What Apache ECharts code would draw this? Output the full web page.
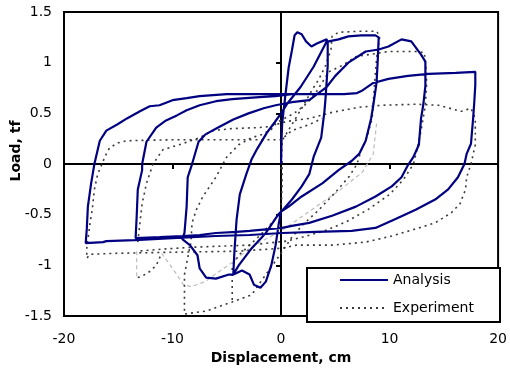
<!DOCTYPE html>
<html><head><meta charset="utf-8">
<script src="https://cdn.jsdelivr.net/npm/echarts@6/dist/echarts.min.js"></script>
<style>html,body{margin:0;padding:0;background:#fff}#c{width:510px;height:370px}</style>
</head><body><div id="c"></div>
<script>
// axis ticks
var xTicks = [-20, -10, 0, 10, 20];
var yTicks = [-1.5, -1, -0.5, 0, 0.5, 1, 1.5];

// Analysis branches [displacement cm, load tf]
var anVirgin = [[0,0],[0.05,0.25],[0.1,0.4],[0.4,0.68],[0.7,0.95],[1.0,1.12],[1.25,1.27],[1.5,1.3],[1.9,1.28],[2.3,1.21],[2.8,1.16],[3.3,1.19],[4.2,1.23]];
var anUnload4 = [[4.3,1.2],[4.3,0.97],[4.1,0.65],[4.0,0.52],[3.7,0.26],[3.0,0.07],[2.6,-0.1],[1.9,-0.22],[1.0,-0.35],[0.1,-0.46],[-0.2,-0.49],[-1.4,-0.68],[-2.7,-0.83],[-3.9,-1.0],[-4.4,-1.09]];
var anLoad9 = [[-4.3,-0.87],[-4.1,-0.55],[-3.8,-0.3],[-3.2,-0.1],[-2.7,0.05],[-2.2,0.15],[-1.3,0.31],[-0.6,0.41],[0,0.5],[0.6,0.6],[1.8,0.76],[3.0,0.96],[4.2,1.21],[4.4,1.21],[5.3,1.23],[6.2,1.26],[7.4,1.27],[8.7,1.27],[9.0,1.25]];
var anUnload9 = [[8.9,1.0],[8.8,0.8],[8.5,0.58],[8.3,0.45],[7.8,0.23],[7.2,0.1],[6.5,0.03],[5.3,-0.06],[3.8,-0.19],[1.9,-0.32],[0.7,-0.42],[0,-0.47],[-0.2,-0.58],[-0.5,-0.8],[-0.9,-1.0],[-1.4,-1.16],[-1.9,-1.22],[-2.5,-1.19],[-2.9,-1.09],[-3.6,-1.05],[-4.4,-1.09],[-4.8,-1.09],[-6.0,-1.13],[-6.9,-1.12],[-7.5,-1.03],[-7.7,-0.9],[-8.4,-0.8],[-9.1,-0.74]];
var anLoad13 = [[-8.9,-0.68],[-8.7,-0.42],[-8.6,-0.13],[-8.2,0],[-7.6,0.22],[-7.0,0.29],[-5.8,0.36],[-4.4,0.44],[-3.0,0.5],[-1.6,0.55],[-0.5,0.58],[1.0,0.61],[2.6,0.63],[3.2,0.68],[4.2,0.76],[5.0,0.87],[6.2,1.0],[7.8,1.11],[9.0,1.13],[9.9,1.16],[11.1,1.23],[12.0,1.21],[12.9,1.08],[13.3,1.01]];
var anUnload13 = [[13.3,0.77],[13.1,0.58],[12.9,0.45],[12.7,0.19],[12.2,0.07],[11.7,-0.01],[11.1,-0.13],[10.2,-0.22],[8.7,-0.32],[6.9,-0.42],[4.7,-0.51],[2.6,-0.58],[1.0,-0.61],[0.1,-0.63],[-2.9,-0.66],[-4.1,-0.67],[-6.0,-0.68],[-7.5,-0.7],[-9.1,-0.71],[-11.2,-0.72],[-13.4,-0.73]];
var anLoad18 = [[-13.3,-0.51],[-13.2,-0.25],[-12.8,-0.06],[-12.8,0],[-12.4,0.22],[-11.5,0.36],[-10.6,0.43],[-9.6,0.48],[-8.7,0.53],[-7.5,0.58],[-6.0,0.62],[-4.5,0.64],[-2.0,0.66],[-0.5,0.67],[1.0,0.69],[3.0,0.69],[5.8,0.69],[7.0,0.7],[7.4,0.72],[8.5,0.8],[9.9,0.84],[11.7,0.87],[13.6,0.89],[16.1,0.9],[17.9,0.91]];
var anUnload18 = [[17.9,0.78],[17.8,0.6],[17.7,0.45],[17.5,0.2],[17.1,0.1],[16.9,0],[16.3,-0.13],[15.4,-0.25],[14.2,-0.35],[12.4,-0.45],[10.6,-0.54],[8.7,-0.63],[6.5,-0.66],[3.2,-0.67],[0.1,-0.68],[-2.9,-0.7],[-6.0,-0.71],[-10.0,-0.73],[-13.5,-0.75],[-16.1,-0.76],[-16.4,-0.77],[-18.0,-0.78]];
var anLoadFinal = [[-17.9,-0.64],[-17.8,-0.42],[-17.5,-0.19],[-17.2,0],[-16.7,0.23],[-16.1,0.33],[-15.1,0.39],[-14.2,0.45],[-13.0,0.52],[-12.1,0.57],[-11.2,0.58],[-10.0,0.63],[-8.7,0.65],[-7.5,0.67],[-5.0,0.69],[-2.0,0.69],[0,0.69],[3.0,0.69],[5.8,0.69]];

// Experiment branches (dark dotted)
var exMain1 = [[0,-0.05],[0.1,0.23],[1.0,0.39],[1.9,0.55],[2.8,0.72],[3.5,0.84],[4.1,0.97],[4.6,1.13],[4.7,1.26],[5.3,1.3],[7.2,1.31],[8.8,1.31],[9.1,1.26],[8.8,1.04],[8.6,0.77],[8.4,0.45],[7.9,0.26],[7.4,0.14],[7.0,0],[6.3,-0.12],[5.0,-0.28],[3.5,-0.45],[2.0,-0.6],[1.0,-0.72],[0.2,-0.85],[-0.8,-1.0],[-1.8,-1.15],[-2.7,-1.29],[-4.5,-1.36],[-6.9,-1.45],[-8.9,-1.48],[-8.9,-1.09],[-8.5,-0.87],[-8.3,-0.77],[-8.2,-0.58],[-7.8,-0.45],[-7.2,-0.32],[-6.0,-0.13],[-5.0,0.07],[-3.9,0.19],[-2.7,0.26],[-1.8,0.29],[-0.9,0.34],[-0.4,0.41],[0.3,0.45],[1.2,0.5],[2.4,0.6],[3.3,0.72],[4.4,0.91],[5.6,0.97],[6.9,1.06],[8.1,1.08],[9.9,1.11],[12.4,1.11],[13.2,1.1],[13.4,0.9],[13.4,0.77],[13.3,0.58],[12.9,0.33],[12.5,0.13],[12.2,0],[11.3,-0.15],[10.0,-0.3],[8.0,-0.45],[6.0,-0.57],[4.0,-0.66],[2.0,-0.72],[0.5,-0.76],[-3.0,-0.8],[-8.0,-0.82],[-11.0,-0.84],[-13.3,-0.86]];
var exMain2 = [[-13.2,-0.77],[-13.0,-0.58],[-12.8,-0.39],[-12.4,-0.19],[-11.8,0],[-10.9,0.14],[-9.4,0.19],[-7.5,0.26],[-6.3,0.33],[-4.5,0.35],[-2.0,0.36],[-1.1,0.37],[0.5,0.42],[2.6,0.45],[4.7,0.51],[7.2,0.56],[9.3,0.58],[12.4,0.59],[14.5,0.58],[16.6,0.52],[17.5,0.55],[17.9,0.45],[17.9,0.19],[17.5,0],[17.1,-0.13],[17.0,-0.25],[16.5,-0.39],[15.7,-0.48],[14.2,-0.58],[12.4,-0.64],[10.2,-0.71],[7.8,-0.77],[4.7,-0.8],[1.4,-0.8],[0.1,-0.83],[-4.0,-0.86],[-10.0,-0.87],[-15.0,-0.88],[-17.6,-0.89],[-17.9,-0.93],[-17.9,-0.83],[-17.6,-0.58],[-17.4,-0.45],[-17.2,-0.25],[-16.9,-0.1],[-16.5,0],[-16.2,0.08],[-15.8,0.16],[-15.0,0.21],[-14.2,0.23],[-10.0,0.24],[-5.0,0.24],[0,0.24],[1.0,0.33],[2.6,0.39],[3.8,0.45]];
var exBump = [[-13.2,-1.12],[-12.7,-1.1],[-12.1,-1.06],[-11.5,-1.0],[-11.0,-0.88]];
var exSmall = [[-4.5,-1.34],[-4.5,-1.0],[-3.9,-0.9],[-2.9,-0.8],[-2.0,-0.71],[-1.1,-0.61],[-0.5,-0.54],[0,-0.48],[0.1,-0.2],[0.1,0.05]];
// Experiment branches (light grey)
var exGreyA = [[-11.0,-0.88],[-10.4,-0.97],[-9.6,-1.09],[-9.0,-1.19],[-8.3,-1.21],[-7.0,-1.16],[-5.7,-1.06],[-4.5,-0.97],[-2.9,-0.83],[-1.4,-0.74],[0,-0.66],[1.5,-0.55],[3.5,-0.4],[5.5,-0.25],[7.5,-0.08],[8.5,0.1],[8.8,0.4]];
var exGreyB = [[-13.3,-0.86],[-13.3,-1.12],[-13.2,-1.12]];

var analysisData = [].concat(anVirgin, anUnload4, anLoad9, anUnload9, anLoad13, anUnload13, anLoad18, anUnload18, anLoadFinal);
var expDark = [exMain1, exMain2, exBump, exSmall];
var expGrey = [exGreyA, exGreyB];

var FONT = '"DejaVu Sans", "Liberation Sans", sans-serif';
var series = [];
expGrey.forEach(function (d) {
  series.push({name: 'Experiment grey', type: 'line', data: d, symbol: 'none', silent: true, z: 1,
    itemStyle: {color: '#bdbdbd'},
    lineStyle: {color: '#bdbdbd', width: 1.2, type: [4, 3]}});
});
expDark.forEach(function (d) {
  series.push({name: 'Experiment', type: 'line', data: d, symbol: 'none', z: 2,
    itemStyle: {color: '#3a3a3a'},
    lineStyle: {color: '#3a3a3a', width: 1.6, type: [2, 4]}});
});
series.push({name: 'Analysis', type: 'line', data: analysisData, symbol: 'none', z: 3,
  itemStyle: {color: '#000080'},
  lineStyle: {color: '#000080', width: 2.2}});

var chart = echarts.init(document.getElementById('c'), null, {renderer: 'canvas'});
chart.setOption({
  animation: false,
  backgroundColor: '#fff',
  grid: {left: 64, right: 10, top: 12, bottom: 48, show: true, borderColor: '#000', borderWidth: 2, backgroundColor: 'transparent'},
  xAxis: [{
    type: 'value', min: xTicks[0], max: xTicks[xTicks.length - 1], interval: xTicks[1] - xTicks[0],
    axisLine: {show: false, onZero: false}, axisTick: {show: false}, splitLine: {show: false},
    axisLabel: {margin: 16, fontSize: 14, fontFamily: FONT, color: '#000'},
    name: 'Displacement, cm', nameLocation: 'middle', nameGap: 30,
    nameTextStyle: {fontSize: 14, fontWeight: 'bold', fontFamily: FONT, color: '#000'}
  }, {
    type: 'value', min: xTicks[0], max: xTicks[xTicks.length - 1], interval: xTicks[1] - xTicks[0],
    position: 'bottom',
    axisLine: {show: true, onZero: true, onZeroAxisIndex: 0, lineStyle: {color: '#000', width: 2}},
    axisTick: {show: true, length: 5, lineStyle: {color: '#000', width: 2}},
    axisLabel: {show: false}, splitLine: {show: false}
  }],
  yAxis: [{
    type: 'value', min: yTicks[0], max: yTicks[yTicks.length - 1], interval: yTicks[1] - yTicks[0],
    axisLine: {show: false, onZero: false}, axisTick: {show: false}, splitLine: {show: false},
    axisLabel: {margin: 12, fontSize: 14, fontFamily: FONT, color: '#000'}
  }, {
    type: 'value', min: yTicks[0], max: yTicks[yTicks.length - 1], interval: yTicks[1] - yTicks[0],
    position: 'left',
    axisLine: {show: true, onZero: true, onZeroAxisIndex: 0, lineStyle: {color: '#000', width: 2}},
    axisTick: {show: true, length: 5, lineStyle: {color: '#000', width: 2}},
    axisLabel: {show: false}, splitLine: {show: false}
  }],
  legend: {
    data: ['Analysis', 'Experiment'], orient: 'vertical', left: 339, top: 273, padding: 0,
    itemWidth: 48, itemHeight: 14, itemGap: 14, z: 10,
    itemStyle: {opacity: 0},
    textStyle: {fontSize: 14, fontFamily: FONT, color: '#000'}
  },
  graphic: [{
    type: 'rect', z: 5, shape: {x: 307, y: 268, width: 193, height: 54},
    style: {fill: '#fff', stroke: '#000', lineWidth: 2}
  }, {
    type: 'text', z: 5, x: 16, y: 151, rotation: Math.PI / 2,
    style: {text: 'Load, tf', fontSize: 14, fontWeight: 'bold', fontFamily: FONT, fill: '#000',
      align: 'center', verticalAlign: 'middle'}
  }],
  series: series
});
</script></body></html>
